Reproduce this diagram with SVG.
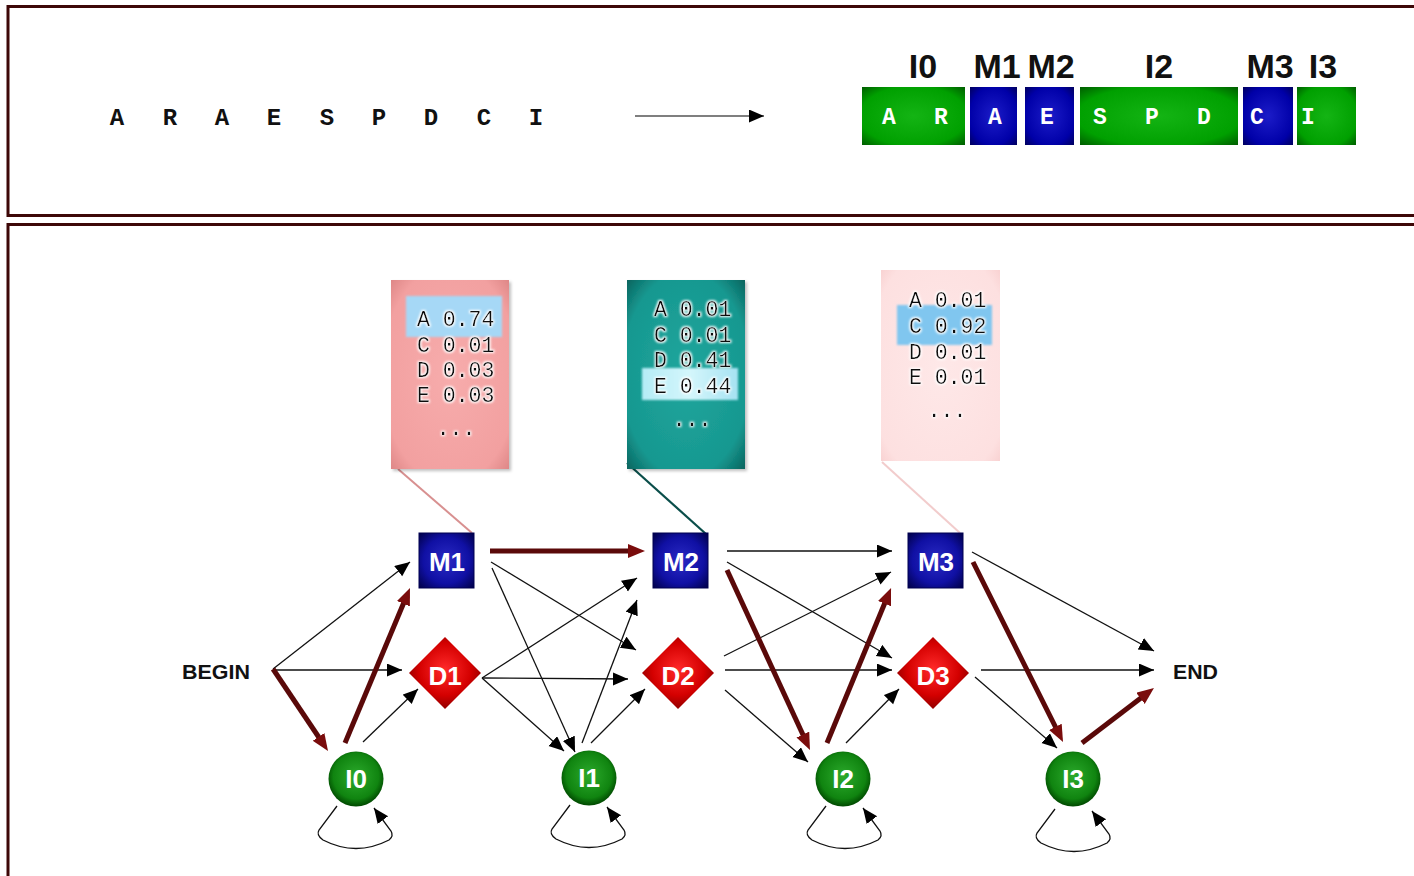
<svg xmlns="http://www.w3.org/2000/svg" width="1414" height="876" viewBox="0 0 1414 876">
<style>
.panel{fill:#fff;stroke:#3d0707;stroke-width:3}
.seq{font-family:"Liberation Mono",monospace;font-weight:bold;font-size:24px;fill:#111;text-anchor:middle}
.seqw{font-family:"Liberation Mono",monospace;font-weight:bold;font-size:23px;fill:#fff;text-anchor:middle}
.lbl{font-family:"Liberation Sans",Arial,sans-serif;font-weight:bold;font-size:34px;fill:#111;text-anchor:middle}
.em{font-family:"Liberation Mono",monospace;font-size:21.5px;fill:#111}
.nl{font-family:"Liberation Sans",Arial,sans-serif;font-weight:bold;font-size:26px;fill:#fff;text-anchor:middle}
.tl{font-family:"Liberation Sans",Arial,sans-serif;font-weight:bold;font-size:20px;fill:#111}
.thin{stroke:#111;stroke-width:1.3;fill:none;marker-end:url(#ah)}
.thick{stroke:#5a0909;stroke-width:5;fill:none;marker-end:url(#ahr)}
</style>
<defs>
<marker id="ah" markerUnits="userSpaceOnUse" markerWidth="16" markerHeight="14" refX="15" refY="6.5" orient="auto"><path d="M0,0 L15,6.5 L0,13 z" fill="#000"/></marker>
<marker id="ahr" markerUnits="userSpaceOnUse" markerWidth="18" markerHeight="15" refX="8" refY="7" orient="auto"><path d="M0,0 L17,7 L0,14 z" fill="#7a0c0c"/></marker>
<radialGradient id="gBlue" cx="0.5" cy="0.5" r="0.7"><stop offset="0" stop-color="#2a2ac4"/><stop offset="0.6" stop-color="#1010a4"/><stop offset="1" stop-color="#000048"/></radialGradient>
<radialGradient id="gGreen" cx="0.5" cy="0.45" r="0.55"><stop offset="0" stop-color="#2caa2c"/><stop offset="0.75" stop-color="#108410"/><stop offset="1" stop-color="#004800"/></radialGradient>
<radialGradient id="gRed" cx="0.5" cy="0.45" r="0.6"><stop offset="0" stop-color="#ff2a2a"/><stop offset="0.6" stop-color="#d40000"/><stop offset="1" stop-color="#800000"/></radialGradient>
<radialGradient id="gBarG" cx="0.5" cy="0.5" r="0.72"><stop offset="0" stop-color="#14b414"/><stop offset="0.72" stop-color="#00a000"/><stop offset="1" stop-color="#005800"/></radialGradient>
<radialGradient id="gBarB" cx="0.5" cy="0.5" r="0.72"><stop offset="0" stop-color="#1c1cc8"/><stop offset="0.7" stop-color="#0000a8"/><stop offset="1" stop-color="#000058"/></radialGradient>
<radialGradient id="gSal" cx="0.5" cy="0.5" r="0.72"><stop offset="0" stop-color="#f7acac"/><stop offset="0.8" stop-color="#f2a0a0"/><stop offset="1" stop-color="#dc8484"/></radialGradient>
<radialGradient id="gTeal" cx="0.5" cy="0.5" r="0.72"><stop offset="0" stop-color="#1fa69d"/><stop offset="0.75" stop-color="#179890"/><stop offset="1" stop-color="#07605a"/></radialGradient>
<radialGradient id="gPink" cx="0.5" cy="0.5" r="0.72"><stop offset="0" stop-color="#fee8e8"/><stop offset="0.85" stop-color="#fde0e0"/><stop offset="1" stop-color="#f8d0d0"/></radialGradient>
<linearGradient id="gCyan" x1="0" y1="0" x2="1" y2="0"><stop offset="0" stop-color="#b4ecf6"/><stop offset="0.5" stop-color="#d4f6fb"/><stop offset="1" stop-color="#a6e2f2"/></linearGradient>
<filter id="glow" x="-10%" y="-30%" width="120%" height="160%"><feMorphology in="SourceAlpha" operator="dilate" radius="1.2" result="d"/><feGaussianBlur in="d" stdDeviation="1.2" result="b"/><feFlood flood-color="#fff"/><feComposite in2="b" operator="in" result="w"/><feMerge><feMergeNode in="w"/><feMergeNode in="SourceGraphic"/></feMerge></filter>
<filter id="soft" x="-10%" y="-10%" width="120%" height="120%"><feGaussianBlur stdDeviation="1.2"/></filter>
<filter id="shadow" x="-10%" y="-10%" width="130%" height="130%"><feDropShadow dx="2" dy="2" stdDeviation="1.5" flood-color="#000" flood-opacity="0.25"/></filter>
<path id="loop" d="M-19,27 L-37,51 Q-40,56 -33,61 Q0,78 33,61 Q38,57 35,52 L18,29"/>
</defs>

<!-- panels -->
<rect class="panel" x="8" y="6.5" width="1420" height="209"/>
<rect class="panel" x="8" y="224.5" width="1420" height="670"/>

<!-- top: sequence -->
<g id="sequence">
<text class="seq" x="117" y="125">A</text>
<text class="seq" x="170" y="125">R</text>
<text class="seq" x="222" y="125">A</text>
<text class="seq" x="274" y="125">E</text>
<text class="seq" x="327" y="125">S</text>
<text class="seq" x="379" y="125">P</text>
<text class="seq" x="431" y="125">D</text>
<text class="seq" x="484" y="125">C</text>
<text class="seq" x="536" y="125">I</text>
</g>
<g id="top-arrow"><line x1="635" y1="116" x2="764" y2="116" stroke="#555" stroke-width="1.5" marker-end="url(#ah)"/></g>

<!-- top: aligned sequence -->
<g id="aligned">
<rect x="862" y="87" width="103" height="58" fill="url(#gBarG)"/>
<rect x="970" y="87" width="47" height="58" fill="url(#gBarB)"/>
<rect x="1025" y="87" width="49" height="58" fill="url(#gBarB)"/>
<rect x="1080" y="87" width="158" height="58" fill="url(#gBarG)"/>
<rect x="1243" y="87" width="50" height="58" fill="url(#gBarB)"/>
<rect x="1297" y="87" width="59" height="58" fill="url(#gBarG)"/>
<text class="seqw" x="889" y="124">A</text>
<text class="seqw" x="941" y="124">R</text>
<text class="seqw" x="995" y="124">A</text>
<text class="seqw" x="1047" y="124">E</text>
<text class="seqw" x="1100" y="124">S</text>
<text class="seqw" x="1152" y="124">P</text>
<text class="seqw" x="1204" y="124">D</text>
<text class="seqw" x="1257" y="124">C</text>
<text class="seqw" x="1308" y="124">I</text>
<text class="lbl" x="923" y="78">I0</text>
<text class="lbl" x="997" y="78">M1</text>
<text class="lbl" x="1051" y="78">M2</text>
<text class="lbl" x="1159" y="78">I2</text>
<text class="lbl" x="1270" y="78">M3</text>
<text class="lbl" x="1323" y="78">I3</text>
</g>

<!-- emission boxes -->
<g id="emit1">
<line x1="398" y1="469" x2="472" y2="533" stroke="#d89090" stroke-width="2"/>
<rect x="391" y="280" width="118" height="189" fill="url(#gSal)" filter="url(#shadow)"/>
<rect x="406" y="296" width="96" height="41" fill="#a6d8f6" filter="url(#soft)"/>
<g filter="url(#glow)">
<text class="em" x="417" y="326" xml:space="preserve">A 0.74</text>
<text class="em" x="417" y="352" xml:space="preserve">C 0.01</text>
<text class="em" x="417" y="377" xml:space="preserve">D 0.03</text>
<text class="em" x="417" y="402" xml:space="preserve">E 0.03</text>
<text class="em" x="456" y="435" text-anchor="middle">...</text>
</g>
</g>
<g id="emit2">
<line x1="627" y1="463" x2="706" y2="534" stroke="#0a4e4a" stroke-width="2.2"/>
<rect x="627" y="280" width="118" height="189" fill="url(#gTeal)" filter="url(#shadow)"/>
<rect x="642" y="368" width="96" height="32" fill="url(#gCyan)" filter="url(#soft)"/>
<g filter="url(#glow)">
<text class="em" x="654" y="316" xml:space="preserve">A 0.01</text>
<text class="em" x="654" y="342" xml:space="preserve">C 0.01</text>
<text class="em" x="654" y="367" xml:space="preserve">D 0.41</text>
<text class="em" x="654" y="393" xml:space="preserve">E 0.44</text>
<text class="em" x="692" y="426" text-anchor="middle">...</text>
</g>
</g>
<g id="emit3">
<line x1="882" y1="462" x2="960" y2="533" stroke="#f2cccc" stroke-width="2"/>
<rect x="881" y="270" width="119" height="191" fill="url(#gPink)"/>
<rect x="897" y="305" width="95" height="40" fill="#80c6ef" filter="url(#soft)"/>
<g filter="url(#glow)">
<text class="em" x="909" y="307" xml:space="preserve">A 0.01</text>
<text class="em" x="909" y="333" xml:space="preserve">C 0.92</text>
<text class="em" x="909" y="359" xml:space="preserve">D 0.01</text>
<text class="em" x="909" y="384" xml:space="preserve">E 0.01</text>
<text class="em" x="947" y="417" text-anchor="middle">...</text>
</g>
</g>

<!-- connectors -->
<g id="connectors">
<line class="thin" x1="273" y1="669" x2="410" y2="562"/>
<line class="thin" x1="273" y1="670" x2="402" y2="670"/>
<line class="thin" x1="363" y1="742" x2="418" y2="689"/>
<line class="thin" x1="491" y1="562" x2="636" y2="650"/>
<line class="thin" x1="492" y1="568" x2="575" y2="752"/>
<line class="thin" x1="482" y1="678" x2="637" y2="578"/>
<line class="thin" x1="482" y1="678" x2="628" y2="679"/>
<line class="thin" x1="482" y1="678" x2="564" y2="751"/>
<line class="thin" x1="582" y1="743" x2="637" y2="600"/>
<line class="thin" x1="591" y1="743" x2="645" y2="689"/>
<line class="thin" x1="727" y1="551" x2="892" y2="551"/>
<line class="thin" x1="727" y1="562" x2="892" y2="658"/>
<line class="thin" x1="724" y1="656" x2="891" y2="572"/>
<line class="thin" x1="725" y1="670" x2="892" y2="670"/>
<line class="thin" x1="725" y1="690" x2="808" y2="762"/>
<line class="thin" x1="846" y1="743" x2="899" y2="689"/>
<line class="thin" x1="972" y1="552" x2="1154" y2="651"/>
<line class="thin" x1="981" y1="670" x2="1154" y2="670"/>
<line class="thin" x1="975" y1="677" x2="1057" y2="748"/>
<line class="thick" x1="273" y1="669" x2="323" y2="743.5"/>
<line class="thick" x1="345" y1="743" x2="406.5" y2="596.3"/>
<line class="thick" x1="490" y1="551" x2="636" y2="551"/>
<line class="thick" x1="727" y1="570" x2="806.2" y2="741.8"/>
<line class="thick" x1="827" y1="743" x2="887.6" y2="596.3"/>
<line class="thick" x1="973" y1="562" x2="1059" y2="734"/>
<line class="thick" x1="1082" y1="743" x2="1146.8" y2="693.5"/>
<use href="#loop" class="thin" transform="translate(356,779)"/>
<use href="#loop" class="thin" transform="translate(589,778)"/>
<use href="#loop" class="thin" transform="translate(845,779)"/>
<use href="#loop" class="thin" transform="translate(1074,782)"/>
</g>

<!-- nodes -->
<g id="BEGIN"><text class="tl" x="182" y="679" textLength="68" lengthAdjust="spacingAndGlyphs">BEGIN</text></g>
<g id="END"><text class="tl" x="1173" y="679" textLength="45" lengthAdjust="spacingAndGlyphs">END</text></g>
<g id="M1"><rect x="419" y="533" width="55" height="55" fill="url(#gBlue)" stroke="#000050" stroke-width="1"/><text class="nl" x="447" y="571">M1</text></g>
<g id="M2"><rect x="653" y="533" width="55" height="55" fill="url(#gBlue)" stroke="#000050" stroke-width="1"/><text class="nl" x="681" y="571">M2</text></g>
<g id="M3"><rect x="908" y="533" width="55" height="55" fill="url(#gBlue)" stroke="#000050" stroke-width="1"/><text class="nl" x="936" y="571">M3</text></g>
<g id="D1"><path d="M445,637 L481,673 L445,709 L409,673 z" fill="url(#gRed)"/><text class="nl" x="445" y="685">D1</text></g>
<g id="D2"><path d="M678,637 L714,673 L678,709 L642,673 z" fill="url(#gRed)"/><text class="nl" x="678" y="685">D2</text></g>
<g id="D3"><path d="M933,637 L969,673 L933,709 L897,673 z" fill="url(#gRed)"/><text class="nl" x="933" y="685">D3</text></g>
<g id="I0"><circle cx="356" cy="779" r="27.5" fill="url(#gGreen)"/><text class="nl" x="356" y="788">I0</text></g>
<g id="I1"><circle cx="589" cy="778" r="27.5" fill="url(#gGreen)"/><text class="nl" x="589" y="787">I1</text></g>
<g id="I2"><circle cx="843" cy="779" r="27.5" fill="url(#gGreen)"/><text class="nl" x="843" y="788">I2</text></g>
<g id="I3"><circle cx="1073" cy="779" r="27.5" fill="url(#gGreen)"/><text class="nl" x="1073" y="788">I3</text></g>
</svg>
